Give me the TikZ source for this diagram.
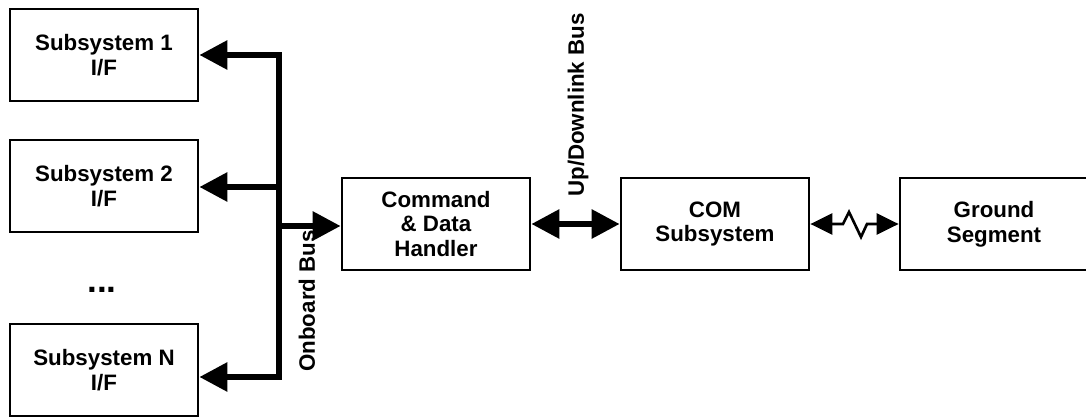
\documentclass[tikz,border=0pt]{standalone}
\usepackage{fontspec}
\setmainfont{Liberation Sans}
\usetikzlibrary{arrows.meta}

\begin{document}
\begin{tikzpicture}[x=0.02cm,y=-0.02cm,line join=miter,
  txt/.style={font=\fontsize{12.7}{14.2}\selectfont\bfseries},
  box/.style={txt,draw,line width=1.6pt,minimum width=3.76cm,minimum height=1.84cm,align=center},
  bus/.style={line width=3.4pt,-{Triangle[length=0.56cm,width=0.56cm]}},
  dbus/.style={line width=3.4pt,{Triangle[length=0.56cm,width=0.56cm]}-{Triangle[length=0.56cm,width=0.56cm]}},
  link/.style={line width=1.5pt,{Triangle[length=0.44cm,width=0.42cm]}-{Triangle[length=0.44cm,width=0.42cm]}}]
  \useasboundingbox (0,0) rectangle (1086,419);
  \clip (0,0) rectangle (1086,419);
  % subsystem interfaces
  \node[box] (sub1) at (104,55) {Subsystem 1\\I/F};
  \node[box] (sub2) at (104,186) {Subsystem 2\\I/F};
  \node[font=\fontsize{20}{20}\selectfont\bfseries] (dots) at (102,290) {...};
  \node[box] (subN) at (104,370) {Subsystem N\\I/F};
  % processing and radio chain
  \node[box] (cdh) at (436,224) {Command\\\& Data\\Handler};
  \node[box] (com) at (715,224) {COM\\Subsystem};
  \node[box] (gnd) at (994,224) {Ground\\Segment};
  % onboard bus
  \coordinate (top) at (279,55); \coordinate (mid) at (279,187);
  \coordinate (tap) at (279,226); \coordinate (bot) at (279,377);
  \draw[dbus] (subN.east |- bot) -- (bot) -- (top) -- (sub1.east);
  \draw[bus] (mid) -- (sub2.east |- mid);
  \draw[bus] (tap) -- (cdh.west |- tap);
  \node[txt,rotate=90] (onb) at (307,301) {Onboard Bus};
  % up/downlink and radio link
  \draw[dbus] (cdh.east) -- (com.west);
  \node[txt,rotate=90] (updn) at (578,105) {Up/Downlink Bus};
  \draw[link] (com.east) -- (843,224) -- (849,212) -- (861,237) -- (867,224) -- (gnd.west);
\end{tikzpicture}
\end{document}
